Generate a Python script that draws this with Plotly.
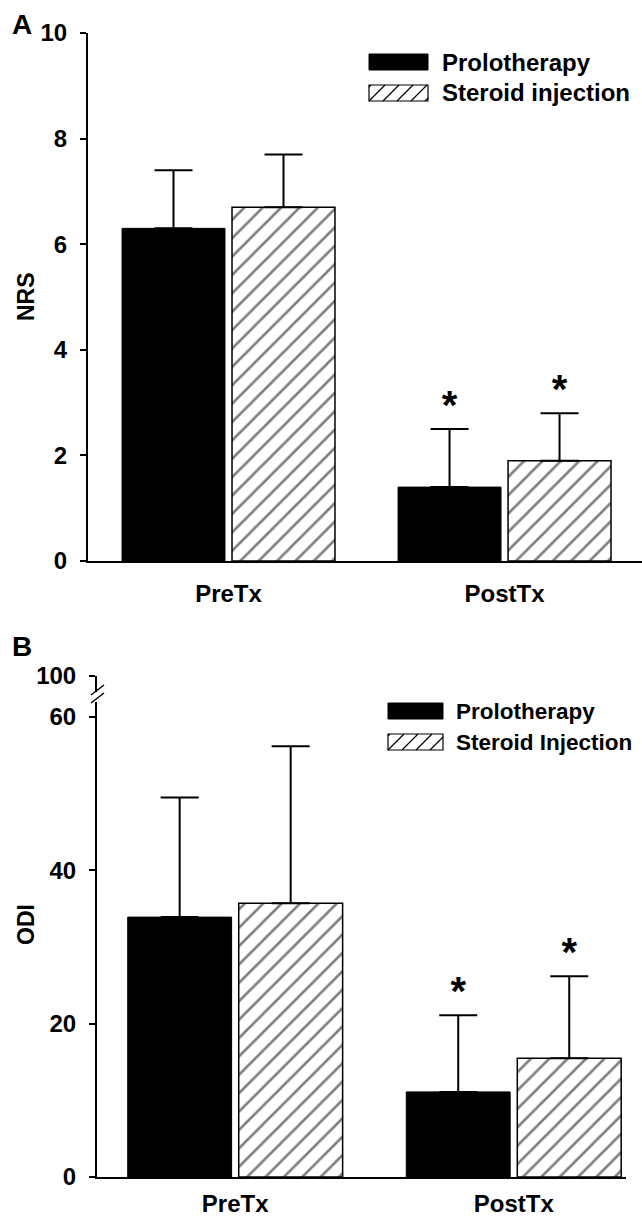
import plotly.graph_objects as go

W, H = 642, 1217

# ---------------- data ----------------
categories = ["PreTx", "PostTx"]
nrs_prolo_mean = [6.3, 1.4]
nrs_prolo_sd = [1.1, 1.1]
nrs_ster_mean = [6.7, 1.9]
nrs_ster_sd = [1.0, 0.9]
odi_prolo_mean = [33.9, 11.1]
odi_prolo_sd = [15.6, 10.0]
odi_ster_mean = [35.7, 15.5]
odi_ster_sd = [20.5, 10.7]
sig_marks = ["", "*"]
nrs_ticks = [0, 2, 4, 6, 8, 10]
odi_ticks = [0, 20, 40, 60]
odi_break_ticks = [100]
legend_a = ["Prolotherapy", "Steroid injection"]
legend_b = ["Prolotherapy", "Steroid Injection"]

FONT = "Liberation Sans, Arial, sans-serif"


def fx(px):
    return px / W


def fy(py):
    return 1 - py / H


def err(arr):
    return dict(type="data", array=arr, arrayminus=[0] * len(arr), symmetric=False,
                color="black", thickness=2, width=19)


hatch = dict(shape="/", fgcolor="black", bgcolor="white", size=13, solidity=0.2)
star_font = dict(size=40, family=FONT, color="black", weight="bold")

fig = go.Figure()

# ---- Panel A ----
fig.add_trace(go.Bar(x=categories, y=nrs_prolo_mean, name="Prolotherapy", offsetgroup="p",
                     marker=dict(color="black", line=dict(color="black", width=1)),
                     error_y=err(nrs_prolo_sd), xaxis="x", yaxis="y", showlegend=False))
fig.add_trace(go.Bar(x=categories, y=nrs_ster_mean, name="Steroid injection", offsetgroup="s",
                     marker=dict(color="white", pattern=hatch, line=dict(color="black", width=1.5)),
                     error_y=err(nrs_ster_sd), xaxis="x", yaxis="y", showlegend=False))
fig.add_trace(go.Scatter(x=categories, y=[m + s for m, s in zip(nrs_prolo_mean, nrs_prolo_sd)],
                         mode="text", text=sig_marks, textposition="top center", offsetgroup="p",
                         textfont=star_font, xaxis="x", yaxis="y", showlegend=False, hoverinfo="skip"))
fig.add_trace(go.Scatter(x=categories, y=[m + s for m, s in zip(nrs_ster_mean, nrs_ster_sd)],
                         mode="text", text=sig_marks, textposition="top center", offsetgroup="s",
                         textfont=star_font, xaxis="x", yaxis="y", showlegend=False, hoverinfo="skip"))

# ---- Panel B ----
fig.add_trace(go.Bar(x=categories, y=odi_prolo_mean, name="Prolotherapy", offsetgroup="p",
                     marker=dict(color="black", line=dict(color="black", width=1)),
                     error_y=err(odi_prolo_sd), xaxis="x2", yaxis="y2", showlegend=False))
fig.add_trace(go.Bar(x=categories, y=odi_ster_mean, name="Steroid Injection", offsetgroup="s",
                     marker=dict(color="white", pattern=hatch, line=dict(color="black", width=1.5)),
                     error_y=err(odi_ster_sd), xaxis="x2", yaxis="y2", showlegend=False))
fig.add_trace(go.Scatter(x=categories, y=[m + s for m, s in zip(odi_prolo_mean, odi_prolo_sd)],
                         mode="text", text=sig_marks, textposition="top center", offsetgroup="p",
                         textfont=star_font, xaxis="x2", yaxis="y2", showlegend=False, hoverinfo="skip"))
fig.add_trace(go.Scatter(x=categories, y=[m + s for m, s in zip(odi_ster_mean, odi_ster_sd)],
                         mode="text", text=sig_marks, textposition="top center", offsetgroup="s",
                         textfont=star_font, xaxis="x2", yaxis="y2", showlegend=False, hoverinfo="skip"))
# empty trace so the broken-axis segment (up to 100) is drawn
fig.add_trace(go.Scatter(x=[], y=[], xaxis="x2", yaxis="y3", showlegend=False, hoverinfo="skip"))

tickfont = dict(family=FONT, size=24, color="black", weight="bold")
common_y = dict(showgrid=False, zeroline=False, showline=True, linecolor="black", linewidth=2,
                ticks="outside", ticklen=6, tickwidth=2, tickcolor="black", tickfont=tickfont,
                ticklabelstandoff=8, automargin=False)
common_x = dict(showgrid=False, zeroline=False, showline=True, linecolor="black", linewidth=2,
                ticks="", tickfont=tickfont, automargin=False, type="category")

fig.update_layout(
    width=W, height=H,
    margin=dict(l=0, r=0, t=0, b=0),
    paper_bgcolor="white", plot_bgcolor="rgba(0,0,0,0)",
    barmode="group", bargap=0.203, bargroupgap=0.064,
    scattermode="group", scattergap=0.203,
    showlegend=False,
    xaxis=dict(domain=[fx(88), 1.0], range=[-0.509, 1.498], anchor="y", ticklabelstandoff=10, **common_x),
    yaxis=dict(domain=[fy(561), fy(33)], range=[0, 10], tickvals=nrs_ticks, anchor="x", **common_y),
    xaxis2=dict(domain=[fx(97), fx(626)], range=[-0.496, 1.403], anchor="y2", ticklabelstandoff=4,
                **common_x),
    yaxis2=dict(domain=[fy(1177), fy(702)], range=[0, 61.96], tickvals=odi_ticks, anchor="x2", **common_y),
    yaxis3=dict(domain=[fy(692), fy(676)], range=[97.9, 100], tickvals=odi_break_ticks, anchor="x2",
                **common_y),
)

ann = []
ann.append(dict(text="A", x=fx(10), y=fy(24), xref="paper", yref="paper", xanchor="left", yanchor="middle",
                showarrow=False, font=dict(family=FONT, size=28, color="black", weight="bold")))
ann.append(dict(text="B", x=fx(10), y=fy(646), xref="paper", yref="paper", xanchor="left", yanchor="middle",
                showarrow=False, font=dict(family=FONT, size=28, color="black", weight="bold")))
ann.append(dict(text="NRS", x=fx(26), y=fy(297), xref="paper", yref="paper", xanchor="center",
                yanchor="middle", textangle=-90, showarrow=False,
                font=dict(family=FONT, size=23, color="black", weight="bold")))
ann.append(dict(text="ODI", x=fx(26), y=fy(925), xref="paper", yref="paper", xanchor="center",
                yanchor="middle", textangle=-90, showarrow=False,
                font=dict(family=FONT, size=23, color="black", weight="bold")))

shapes = []


def hatch_path(x0, y0, x1, y1, s=14):
    w, h = x1 - x0, y1 - y0
    parts = []
    k = -int(h / s) - 1
    while k * s <= w:
        t0 = max(0, -k * s)
        t1 = min(h, w - k * s)
        if t1 > t0:
            xa, ya = x0 + k * s + t0, y1 - t0
            xb, yb = x0 + k * s + t1, y1 - t1
            parts.append(f"M{fx(xa):.5f},{fy(ya):.5f} L{fx(xb):.5f},{fy(yb):.5f}")
        k += 1
    return " ".join(parts)


def legend(x0, x1, ytop, gap, labels, text_x, size):
    h = 16
    shapes.append(dict(type="rect", xref="paper", yref="paper", x0=fx(x0), x1=fx(x1),
                       y0=fy(ytop + h), y1=fy(ytop), fillcolor="black", line=dict(color="black", width=1)))
    y2 = ytop + gap
    shapes.append(dict(type="rect", xref="paper", yref="paper", x0=fx(x0), x1=fx(x1),
                       y0=fy(y2 + h), y1=fy(y2), fillcolor="white", line=dict(color="black", width=1.2)))
    shapes.append(dict(type="path", xref="paper", yref="paper", path=hatch_path(x0, y2, x1, y2 + h),
                       line=dict(color="black", width=1.2)))
    for i, lab in enumerate(labels):
        ann.append(dict(text=lab, x=fx(text_x), y=fy(ytop + h / 2 + i * gap), xref="paper", yref="paper",
                        xanchor="left", yanchor="middle", showarrow=False,
                        font=dict(family=FONT, size=size, color="black", weight="bold")))


legend(369, 428, 54, 31, legend_a, 440, 24)
legend(388, 443, 703, 31, legend_b, 454, 22.5)

# axis break marks
for dy in (0, 8):
    shapes.append(dict(type="line", xref="paper", yref="paper", x0=fx(91), y0=fy(695 + dy),
                       x1=fx(104), y1=fy(685 + dy), line=dict(color="black", width=1.5)))

fig.update_layout(annotations=ann, shapes=shapes)
fig.write_html("out.html", post_script="document.body.style.margin='0';",
               config={"displayModeBar": False})
